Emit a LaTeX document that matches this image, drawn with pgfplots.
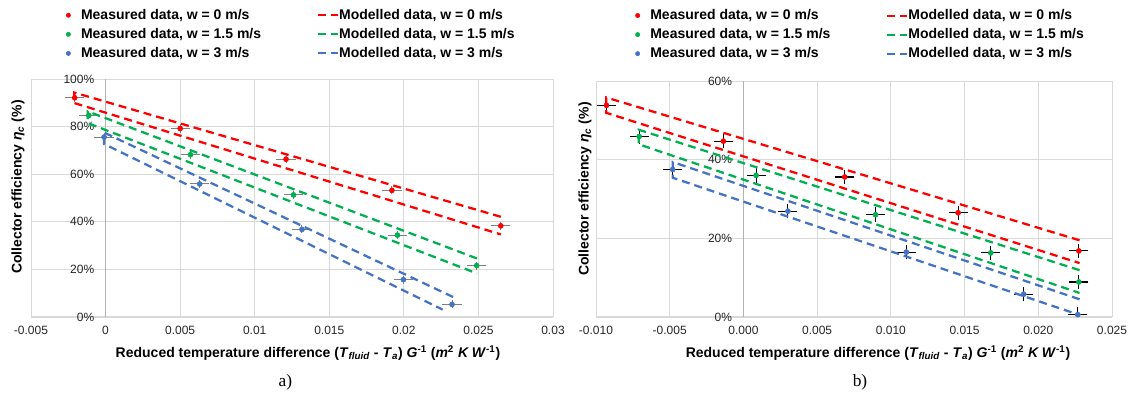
\documentclass[border=0pt]{standalone}
\usepackage{pgfplots}
\pgfplotsset{compat=1.18}
\usepackage{fontspec}
\setmainfont{Liberation Sans}
\newfontfamily\serif{Liberation Serif}

\definecolor{cred}{HTML}{FF0000}
\definecolor{cgreen}{HTML}{00B050}
\definecolor{cblue}{HTML}{4472C4}
\definecolor{gridc}{HTML}{D9D9D9}

\newcommand{\lblfont}{\bfseries\fontsize{10.5}{12}\selectfont}

\pgfplotsset{
  effplot/.style={
    scale only axis, anchor=south west,
    axis x line=bottom, axis y line=middle,
    axis line style={-},
    x axis line style={draw=gridc, line width=0.75pt},
    y axis line style={draw=black!30, line width=1.3pt},
    hide obscured x ticks=false, hide obscured y ticks=false,
    enlargelimits=false,
    scaled x ticks=false, scaled y ticks=false,
    grid=major, major grid style={gridc, line width=0.6pt},
    major tick length=0pt,
    tick label style={font=\fontsize{9}{10}\selectfont, text=black!85},
    yticklabel style={xshift=-5pt},
    xticklabel style={yshift=-3pt},
    legend columns=2, legend cell align=left,
    legend style={draw=none, fill=none, anchor=north west, inner sep=0pt,
      font=\lblfont, row sep=3.2pt,
      /tikz/every even column/.append style={column sep=42pt},
      nodes={inner xsep=0pt, inner ysep=1pt}},
  },
  meas/.style={only marks, mark=*, mark size=1.9pt, color=#1,
    mark options={draw=#1, fill=#1},
    legend image code/.code={
      \fill[#1] (0pt,0pt) circle (1.6pt);
      \path[draw=none] (-2pt,0pt) -- (9.5pt,0pt);},
    error bars/x dir=both, error bars/x explicit,
    error bars/y dir=both, error bars/y explicit},
  model/.style={color=#1, line width=1.7pt, dash pattern=on 6pt off 3.75pt,
    legend image code/.code={
      \draw[##1, line width=1.5pt] (0pt,0pt) -- (15pt,0pt);}},
}

\begin{document}
\begin{tikzpicture}
\path (0pt,0pt) rectangle (849pt,307.5pt);

% ---------- a) ----------
\begin{axis}[effplot,
  at={(23.25pt,69.75pt)}, width=391.5pt, height=178.5pt,
  xmin=-0.005, xmax=0.03, ymin=0, ymax=100,
  xtick={-0.005,0,0.005,0.01,0.015,0.02,0.025,0.03},
  xticklabels={-0.005,0,0.005,0.01,0.015,0.02,0.025,0.03},
  ytick={0,20,40,60,80,100},
  yticklabels={0\%,20\%,40\%,60\%,80\%,100\%},
  legend style={at={(axis description cs:0.066,1.30)}},
  error bars/error bar style={black!50, line width=0.75pt},
  error bars/error mark options={black!50, line width=0.75pt, mark size=1.6pt},
]
\addplot[meas=cred] coordinates {
  (-0.00207,92.1) +- (0.0005,0.8)
  (0.0050,79.2) +- (0.0005,0.8)
  (0.0121,66.3) +- (0.0005,0.8)
  (0.0192,53.2) +- (0.0005,0.8)
  (0.0265,38.3) +- (0.0005,0.8)
};
\addlegendentry{Measured data, w = 0 m/s}
\addplot[model=cred] coordinates {
  (0.0265,42.1) (-0.0021,94.3) (-0.0021,89.9) (0.0265,34.7)
};
\addlegendentry{Modelled data, w = 0 m/s}
\addplot[meas=cgreen] coordinates {
  (-0.00112,84.7) +- (0.0005,0.8)
  (0.00569,68.2) +- (0.0005,0.8)
  (0.0126,51.3) +- (0.0005,0.8)
  (0.01957,34.4) +- (0.0005,0.8)
  (0.02488,21.6) +- (0.0005,0.8)
};
\addlegendentry{Measured data, w = 1.5 m/s}
\addplot[model=cgreen] coordinates {
  (0.0249,24.6) (-0.0012,86.4) (-0.0012,81.5) (0.0249,18.3)
};
\addlegendentry{Modelled data, w = 1.5 m/s}
\addplot[meas=cblue] coordinates {
  (-0.0001,75.6) +- (0.0005,0.8)
  (0.00631,55.9) +- (0.0005,0.8)
  (0.01317,36.8) +- (0.0005,0.8)
  (0.01997,15.7) +- (0.0005,0.8)
  (0.02323,5.3) +- (0.0005,0.8)
};
\addlegendentry{Measured data, w = 3 m/s}
\addplot[model=cblue] coordinates {
  (0.0233,8.4) (-0.0001,77.5) (-0.0001,72.7) (0.0226,3.1)
};
\addlegendentry{Modelled data, w = 3 m/s}
\end{axis}

% ---------- b) ----------
\begin{axis}[effplot,
  at={(447pt,69.75pt)}, width=387pt, height=177pt,
  xmin=-0.010, xmax=0.025, ymin=0, ymax=60,
  xtick={-0.010,-0.005,0,0.005,0.010,0.015,0.020,0.025},
  xticklabels={-0.010,-0.005,0.000,0.005,0.010,0.015,0.020,0.025},
  ytick={0,20,40,60},
  yticklabels={0\%,20\%,40\%,60\%},
  legend style={at={(axis description cs:0.075,1.31)}},
  error bars/error bar style={black, line width=0.8pt},
  error bars/error mark options={black, line width=0.8pt, mark size=1.6pt},
]
\addplot[meas=cred] coordinates {
  (-0.00929,53.8) +- (0.0005,1.3)
  (-0.00136,44.7) +- (0.0005,1.3)
  (0.00687,35.6) +- (0.0005,1.3)
  (0.01456,26.5) +- (0.0005,1.3)
  (0.02275,16.8) +- (0.0005,1.3)
};
\addlegendentry{Measured data, w = 0 m/s}
\addplot[model=cred] coordinates {
  (0.0228,19.5) (-0.0093,55.8) (-0.0093,51.9) (0.0228,13.7)
};
\addlegendentry{Modelled data, w = 0 m/s}
\addplot[meas=cgreen] coordinates {
  (-0.00707,45.9) +- (0.0005,1.3)
  (0.00086,36.0) +- (0.0005,1.3)
  (0.00896,26.0) +- (0.0005,1.3)
  (0.01678,16.3) +- (0.0005,1.3)
  (0.02275,8.9) +- (0.0005,1.3)
};
\addlegendentry{Measured data, w = 1.5 m/s}
\addplot[model=cgreen] coordinates {
  (0.0228,11.9) (-0.0071,47.6) (-0.0071,43.9) (0.0228,6.1)
};
\addlegendentry{Modelled data, w = 1.5 m/s}
\addplot[meas=cblue] coordinates {
  (-0.0048,37.5) +- (0.0005,1.3)
  (0.00302,26.9) +- (0.0005,1.3)
  (0.01105,16.5) +- (0.0005,1.3)
  (0.01901,5.8) +- (0.0005,1.3)
  (0.02268,0.6) +- (0.0005,1.3)
};
\addlegendentry{Measured data, w = 3 m/s}
\addplot[model=cblue] coordinates {
  (0.0228,4.5) (-0.0048,39.4) (-0.0048,35.4) (0.0228,0.5)
};
\addlegendentry{Modelled data, w = 3 m/s}
\end{axis}

% axis titles and panel labels
\node[rotate=90, font=\lblfont] at (13.5pt,167.25pt)
  {Collector efficiency \textit{η}\textsubscript{\textit{c}} (\%)};
\node[rotate=90, font=\lblfont] at (438.75pt,165.75pt)
  {Collector efficiency \textit{η}\textsubscript{\textit{c}} (\%)};
\node[font=\lblfont] at (231pt,42.75pt)
  {Reduced temperature difference (\textit{T}\textsubscript{\textit{fluid}} - \textit{T}\textsubscript{\textit{a}}) \textit{G}\textsuperscript{-1} (\textit{m}\textsuperscript{2} \textit{K W}\textsuperscript{-1})};
\node[font=\lblfont] at (658.5pt,42.75pt)
  {Reduced temperature difference (\textit{T}\textsubscript{\textit{fluid}} - \textit{T}\textsubscript{\textit{a}}) \textit{G}\textsuperscript{-1} (\textit{m}\textsuperscript{2} \textit{K W}\textsuperscript{-1})};
\node[font=\serif\fontsize{13}{15}\selectfont] at (214pt,21pt) {a)};
\node[font=\serif\fontsize{13}{15}\selectfont] at (645pt,21pt) {b)};
\end{tikzpicture}
\end{document}
